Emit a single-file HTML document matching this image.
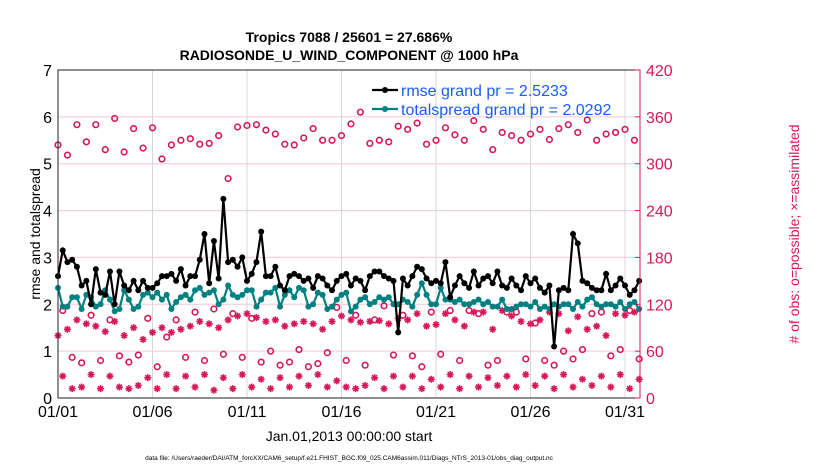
<!DOCTYPE html>
<html><head><meta charset="utf-8"><style>
body{margin:0;background:#fff}
svg{display:block;font-family:"Liberation Sans",sans-serif}
</style></head><body>
<svg id="c" width="830" height="470">
<text x="349" y="42" text-anchor="middle" font-size="14" font-weight="bold">Tropics 7088 / 25601 = 27.686%</text>
<text x="349" y="60" text-anchor="middle" font-size="14" font-weight="bold">RADIOSONDE_U_WIND_COMPONENT @ 1000 hPa</text>
<text transform="translate(40,234) rotate(-90)" text-anchor="middle" font-size="14">rmse and totalspread</text>
<text transform="translate(799,234) rotate(-90)" text-anchor="middle" font-size="14" fill="#d6185a"># of obs: o=possible; ×=assimilated</text>
<text x="349" y="441" text-anchor="middle" font-size="14">Jan.01,2013 00:00:00 start</text>
<text x="349" y="460" text-anchor="middle" font-size="6.5">data file: /Users/raeder/DAI/ATM_forcXX/CAM6_setup/f.e21.FHIST_BGC.f09_025.CAM6assim.011/Diags_NTrS_2013-01/obs_diag_output.nc</text>
<g id="g"></g>
</svg>
<script>
const rmse=[2.6,3.15,2.9,2.95, 2.8,2.4,2.5,2.0, 2.75,2.25,2.2,2.7, 2.0,2.7,2.4,2.3, 2.5,2.3,2.5,2.35,
2.35,2.45,2.6,2.6, 2.65,2.5,2.75,2.4, 2.6,2.6,2.95,3.5, 2.45,3.35,2.55,4.25, 2.9,2.95,2.8,3.0,
2.5,2.65,2.9,3.55, 2.6,2.6,2.8,2.4, 2.3,2.6,2.65,2.6, 2.5,2.55,2.35,2.6, 2.55,2.4,2.3,2.5,
2.6,2.65,2.4,2.55, 2.5,2.3,2.6,2.7, 2.7,2.6,2.55,2.5, 1.4,2.55,2.4,2.6, 2.8,2.75,2.55,2.45,
2.5,2.45,2.9,2.15, 2.4,2.6,2.45,2.35, 2.7,2.4,2.55,2.6, 2.45,2.7,2.4,2.35, 2.55,2.4,2.3,2.6,
2.45,2.55,2.35,2.25, 2.4,1.1,2.3,2.35, 2.3,3.5,3.3,2.5, 2.5,2.4,2.3,2.35, 2.3,2.55,2.4,2.45,
2.25,2.5,2.35,2.45, 2.6,2.45,2.3,2.35];
rmse[104]=2.4;rmse[105]=1.1;rmse[106]=2.3;rmse[107]=2.35;rmse[108]=2.3;rmse[109]=3.5;rmse[110]=3.3;rmse[111]=2.5;rmse[112]=2.45;rmse[113]=2.35;
rmse[114]=2.3;rmse[115]=2.3;rmse[116]=2.65;rmse[117]=2.3;rmse[118]=2.4;rmse[119]=2.55;rmse[120]=2.4;rmse[121]=2.2;rmse[122]=2.3;rmse[123]=2.5;
rmse.length=124;
const spread=[2.35,1.95,1.95,2.15, 2.15,1.9,2.2,2.15, 1.95,2.0,2.3,2.1, 1.85,1.9,2.3,2.1, 1.9,1.95,2.2,2.25,
2.15,2.25,2.1,2.2, 1.9,2.05,2.15,2.2, 2.1,2.3,2.35,2.2, 2.25,2.3,2.0,2.1, 2.4,2.2,2.15,2.2,
2.3,2.3,1.95,2.1, 2.25,2.25,2.35,1.95, 2.2,2.3,2.15,2.35, 2.3,1.95,2.0,2.25, 2.2,1.9,1.95,2.1,
2.2,2.25,1.85,1.95, 2.1,2.15,2.0,2.05, 2.15,2.1,2.15,2.0, 2.0,2.1,2.05,1.95, 2.2,2.45,2.2,2.0,
2.0,2.35,2.1,2.1, 2.05,2.1,2.0,2.0, 2.05,2.1,2.0,2.05, 1.95,1.95,2.1,1.9, 1.9,1.95,2.0,2.0,
1.95,2.05,1.9,1.95, 1.9,2.0,1.95,2.0, 2.0,1.9,2.05,1.95, 2.1,2.15,2.0,1.95, 2.0,2.0,1.95,2.05,
1.9,2.0,2.05,1.9, 2.0,2.05,2.0,1.95, 2.0,2.05,2.0,2.05];
spread.length=124;
const possible=[324,112,311,52, 350,45,328,106, 350,48,318,100, 358,54,315,46, 345,55,320,102,
346,40,306,78, 324,100,330,52, 332,110,325,48, 326,114,336,56, 281,108,347,52, 349,102,350,46,
343,60,338,42, 325,46,324,62, 333,40,345,44, 330,58,330,116, 336,48,351,106, 366,42,326,100,
330,118,328,55, 348,106,344,54, 352,40,325,110, 330,56,346,112, 337,48,330,112, 355,108,344,42,
318,48,340,110, 336,110,330,50, 338,96,344,48, 331,42,345,60, 350,50,340,62,
356,108,330,110, 338,54,340,62, 344,112,330,50, 316,108,335,110, 346,48,330,50, 352,108,342,52];
const assim=[80,28,88,12, 100,14,95,30, 92,12,85,28, 98,14,80,12, 90,16,75,26,
84,12,90,30, 84,12,88,28, 92,14,98,30, 95,10,90,26, 100,12,105,30, 108,14,103,24,
98,12,100,26, 92,14,95,28, 98,16,95,30, 88,14,98,22, 105,14,100,12, 97,16,98,26,
99,12,95,28, 102,14,100,28, 108,12,92,24, 94,14,108,30, 100,12,92,28, 110,14,110,26,
88,16,112,28, 105,14,98,30, 95,16,100,28, 110,12,108,30, 86,14,104,24,
88,16,92,28, 80,14,108,30, 106,12,110,24, 93,16,98,30, 105,16,104,28, 88,12,108,26];
const leftTicks=[0,1,2,3,4,5,6,7];
const rightTicks=[0,60,120,180,240,300,360,420];
const xTickDays=[1,6,11,16,21,26,31];
const xTickLabels=["01/01","01/06","01/11","01/16","01/21","01/26","01/31"];
const legendLabels=["rmse grand pr = 2.5233","totalspread grand pr = 2.0292"];

const X0=58,X1=640,Y0=398,Y1=70,DAY=18.9;
const xs=d=>X0+(d-1)*DAY;
const yl=v=>Y0-(v/7)*(Y0-Y1);
const yr=v=>Y0-(v/420)*(Y0-Y1);
const tday=i=>1+i*0.25;
const inPlot=i=>xs(tday(i))<=X1+0.5;
const NS="http://www.w3.org/2000/svg";
const g=document.getElementById('g');
function mk(t,a,p){const e=document.createElementNS(NS,t);for(const k in a)e.setAttribute(k,a[k]);(p||g).appendChild(e);return e;}

leftTicks.forEach(v=>{const l=mk('line',{x1:X0,x2:X1,y1:yl(v),y2:yl(v),stroke:'#f4c6d6','stroke-width':1});

});
xTickDays.forEach(d=>{const l=mk('line',{x1:xs(d),x2:xs(d),y1:Y0,y2:Y1,stroke:'#d8d8d8','stroke-width':1});

});

function star(x,y,name){const s=mk('g',{stroke:'#d6185a','stroke-width':1.6});


for(let a=0;a<4;a++){const an=a*Math.PI/4;mk('line',{x1:x-3.5*Math.cos(an),y1:y-3.5*Math.sin(an),x2:x+3.5*Math.cos(an),y2:y+3.5*Math.sin(an)},s);}}
possible.forEach((v,i)=>{if(!inPlot(i))return;const c=mk('circle',{cx:xs(tday(i)),cy:yr(v),r:2.8,fill:'none',stroke:'#d6185a','stroke-width':1.6});

});
assim.forEach((v,i)=>{if(inPlot(i))star(xs(tday(i)),yr(v),'assimilated-obs-point');});

function series(arr,col,name){
const pts=arr.map((v,i)=>[xs(tday(i)),yl(v)]).filter(p=>p[0]<=X1+0.5);
const p=mk('polyline',{points:pts.map(q=>q[0]+','+q[1]).join(' '),fill:'none',stroke:col,'stroke-width':2.2});


pts.forEach(q=>{const c=mk('circle',{cx:q[0],cy:q[1],r:3,fill:col});

});}
series(spread,'#008080','totalspread');
series(rmse,'#000','rmse');

const b=mk('rect',{x:X0,y:Y1,width:X1-X0,height:Y0-Y1,fill:'none',stroke:'#222','stroke-width':1});


const ra=mk('line',{x1:X1,x2:X1,y1:Y1,y2:Y0,stroke:'#d6185a','stroke-width':1});



leftTicks.forEach(v=>{const t=mk('text',{x:X0-6,y:yl(v)+6,'text-anchor':'end','font-size':16});t.textContent=v;

});
rightTicks.forEach(v=>{mk('line',{x1:X1-5,x2:X1,y1:yr(v),y2:yr(v),stroke:'#d6185a'});
const t=mk('text',{x:X1+6,y:yr(v)+6,'font-size':16,fill:'#d6185a'});t.textContent=v;

});
xTickDays.forEach((d,i)=>{const t=mk('text',{x:xs(d),y:417,'text-anchor':'middle','font-size':16});t.textContent=xTickLabels[i];

});

[['#000',90],['#008080',109]].forEach((c,i)=>{
const lg=mk('g',{});


mk('line',{x1:372,x2:398,y1:c[1],y2:c[1],stroke:c[0],'stroke-width':2.2},lg);
mk('circle',{cx:385,cy:c[1],r:3,fill:c[0]},lg);
const t=mk('text',{x:401,y:c[1]+6,'font-size':16,fill:'#1a5cff'},lg);t.textContent=legendLabels[i];});
</script>
</body></html>
